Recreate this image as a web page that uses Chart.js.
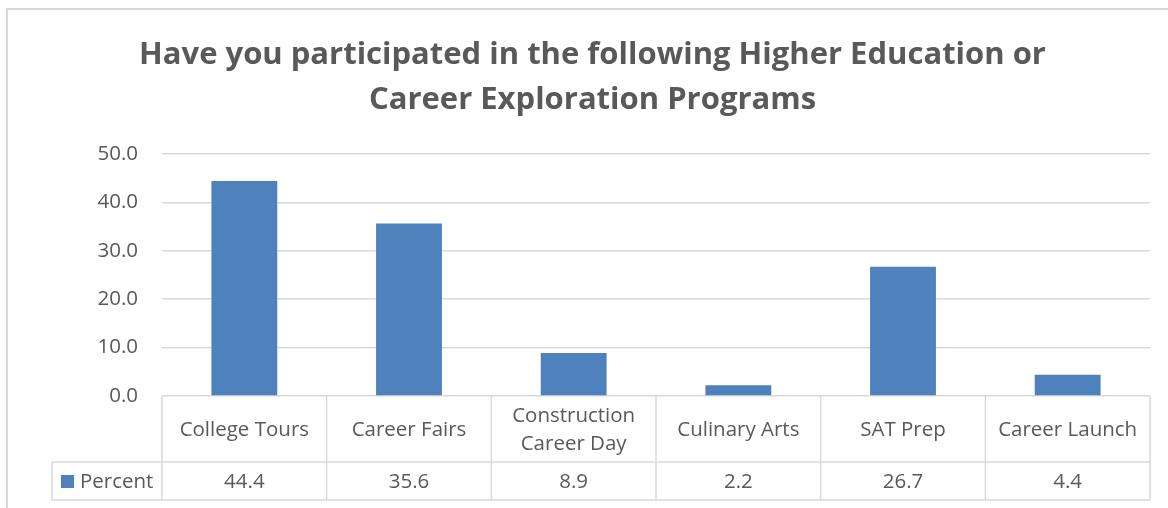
<!DOCTYPE html>
<html>
<head>
<meta charset="utf-8">
<script src="https://cdn.jsdelivr.net/npm/chart.js@4.4.1/dist/chart.umd.min.js"></script>
<style>
  html, body { margin: 0; padding: 0; background: #fff; overflow: hidden; }
  #wrap { position: absolute; left: 0; top: 0; width: 1178px; height: 508px; }
  #frame { position: absolute; left: 6px; top: 8px; width: 1200px; height: 600px;
           border-left: 2px solid #d9d9d9; border-top: 2px solid #d9d9d9; }
</style>
</head>
<body>
<div id="frame"></div>
<div id="wrap"><canvas id="chart"></canvas></div>
<script>
const categories = ['College Tours', 'Career Fairs', 'Construction Career Day', 'Culinary Arts', 'SAT Prep', 'Career Launch']
const categoryLines = [['College Tours'], ['Career Fairs'], ['Construction', 'Career Day'], ['Culinary Arts'], ['SAT Prep'], ['Career Launch']]
const percent = [44.4, 35.6, 8.9, 2.2, 26.7, 4.4]
const yTicks = [0, 10, 20, 30, 40, 50]

const FONT = '"Open Sans", Lato, sans-serif'
const TEXT = '#595959'
const LINE = '#d9d9d9'
const BLUE = '#4f81bd'

// Excel-style data table under the plot
const dataTable = {
  id: 'dataTable',
  afterDraw(chart) {
    const { ctx, chartArea, scales } = chart
    const x = scales.x
    const top = chartArea.bottom
    const mid = top + 66
    const bot = top + 104
    const legendLeft = 52
    const half = (x.getPixelForValue(1) - x.getPixelForValue(0)) / 2

    ctx.save()
    ctx.strokeStyle = LINE
    ctx.lineWidth = 1.5
    ctx.beginPath()
    ctx.moveTo(legendLeft, mid); ctx.lineTo(chartArea.right, mid)
    ctx.moveTo(legendLeft, bot); ctx.lineTo(chartArea.right, bot)
    ctx.moveTo(legendLeft, mid); ctx.lineTo(legendLeft, bot)
    for (let i = 0; i <= categories.length; i++) {
      const px = x.getPixelForValue(i) - half
      ctx.moveTo(px, top); ctx.lineTo(px, bot)
    }
    ctx.stroke()

    ctx.fillStyle = TEXT
    ctx.font = '20.5px ' + FONT
    ctx.textAlign = 'center'
    ctx.textBaseline = 'middle'
    categoryLines.forEach((lines, i) => {
      const px = x.getPixelForValue(i)
      const cy = (top + mid) / 2 + 1
      lines.forEach((t, j) => {
        ctx.fillText(t, px, cy + (j - (lines.length - 1) / 2) * 28)
      })
      ctx.fillText(percent[i].toFixed(1), px, (mid + bot) / 2 + 1)
    })

    // legend key
    ctx.fillStyle = BLUE
    ctx.fillRect(61, (mid + bot) / 2 - 6, 13, 13)
    ctx.fillStyle = TEXT
    ctx.textAlign = 'left'
    ctx.fillText('Percent', 80, (mid + bot) / 2 + 1)
    ctx.restore()
  }
}

new Chart(document.getElementById('chart'), {
  type: 'bar',
  data: {
    labels: categories,
    datasets: [{
      label: 'Percent',
      data: percent,
      backgroundColor: BLUE,
      barPercentage: 0.8,
      categoryPercentage: 0.5
    }]
  },
  options: {
    responsive: true,
    maintainAspectRatio: false,
    animation: false,
    layout: { padding: { left: 35, right: 28, top: 33, bottom: 112 } },
    plugins: {
      legend: { display: false },
      tooltip: { enabled: false },
      title: {
        display: true,
        text: ['Have you participated in the following Higher Education or', 'Career Exploration Programs'],
        color: TEXT,
        font: { family: FONT, size: 31, weight: 'bold', lineHeight: 1.45 },
        padding: { top: 0, bottom: 31 }
      }
    },
    scales: {
      x: { display: false, grid: { display: false } },
      y: {
        min: 0, max: 50,
        afterFit(axis) { axis.width = 127 },
        afterBuildTicks(axis) { axis.ticks = yTicks.map(v => ({ value: v })) },
        border: { display: false },
        grid: { color: LINE, lineWidth: 1.5, drawTicks: false },
        ticks: {
          color: TEXT, padding: 24,
          font: { family: FONT, size: 20.5 },
          callback: v => v.toFixed(1)
        }
      }
    }
  },
  plugins: [dataTable]
})
</script>
</body>
</html>
